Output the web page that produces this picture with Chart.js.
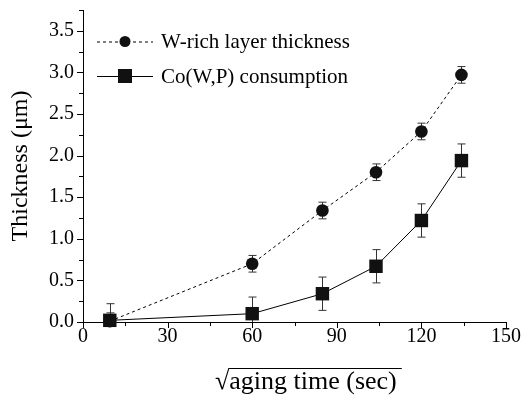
<!DOCTYPE html>
<html>
<head>
<meta charset="utf-8">
<script src="https://cdn.jsdelivr.net/npm/chart.js@4.4.0/dist/chart.umd.min.js"></script>
<style>
  html, body { margin: 0; padding: 0; background: #fff; }
  #wrap { width: 524px; height: 395px; }
</style>
</head>
<body>
<div id="wrap"><canvas id="myChart" width="524" height="395"></canvas></div>
<script>
// sqrt(aging time) values
const tiempo = [9.5, 60, 84.9, 103.9, 120, 134.2];
const espesorW = [0.01, 0.70, 1.34, 1.80, 2.29, 2.97];
const errW = [0.1, 0.1, 0.1, 0.1, 0.1, 0.1];
const consumoCo = [0.02, 0.10, 0.34, 0.67, 1.22, 1.94];
const errCo = [0.2, 0.2, 0.2, 0.2, 0.2, 0.2];
const xTicks = [0, 30, 60, 90, 120, 150];
const yTicks = [0, 0.5, 1.0, 1.5, 2.0, 2.5, 3.0, 3.5];
const etiquetas = ['W-rich layer thickness', 'Co(W,P) consumption'];

const fuente = '"Liberation Serif", "Times New Roman", serif';

function puntos(ys) {
    return tiempo.map((x, i) => ({x: x, y: ys[i]}));
}

const erroresPlugin = {
    id: 'errores',
    beforeDatasetsDraw(chart) {
        const ctx = chart.ctx;
        const xs = chart.scales.x, ys = chart.scales.y;
        const listas = [[espesorW, errW], [consumoCo, errCo]];
        ctx.save();
        ctx.strokeStyle = '#333';
        ctx.lineWidth = 1;
        listas.forEach(([vals, errs]) => {
            for (let i = 0; i < vals.length; i++) {
                let px = Math.round(xs.getPixelForValue(tiempo[i])) + 0.5;
                let top = ys.getPixelForValue(vals[i] + errs[i]);
                let bot = ys.getPixelForValue(Math.max(ys.min, vals[i] - errs[i]));
                ctx.beginPath();
                ctx.moveTo(px, top);
                ctx.lineTo(px, bot);
                ctx.moveTo(px - 4, top);
                ctx.lineTo(px + 4, top);
                if (vals[i] - errs[i] > ys.min) {
                    ctx.moveTo(px - 4, bot);
                    ctx.lineTo(px + 4, bot);
                }
                ctx.stroke();
            }
        });
        ctx.restore();
    },
    afterDraw(chart) {
        const ctx = chart.ctx;
        const xs = chart.scales.x, ys = chart.scales.y;
        const area = chart.chartArea;
        ctx.save();
        ctx.strokeStyle = '#000';
        ctx.lineWidth = 1;
        ctx.beginPath();
        // tick marks, major and minor, pointing out
        for (let v = 0; v <= 150; v += 15) {
            let px = Math.round(xs.getPixelForValue(v)) + 0.5;
            let len = (v % 30 === 0) ? 6 : 4;
            ctx.moveTo(px, area.bottom);
            ctx.lineTo(px, area.bottom + len);
        }
        for (let v = 0; v <= 3.75 + 1e-9; v += 0.25) {
            let py = Math.round(ys.getPixelForValue(v)) + 0.5;
            let mayor = Math.abs(v * 2 - Math.round(v * 2)) < 1e-6;
            let len = mayor ? 6 : 4;
            ctx.moveTo(area.left, py);
            ctx.lineTo(area.left - len, py);
        }
        ctx.stroke();

        // legend
        const filas = [41.5, 76];
        chart.data.datasets.forEach((ds, i) => {
            let y = filas[i];
            ctx.strokeStyle = '#000';
            ctx.lineWidth = 1;
            ctx.setLineDash(ds.borderDash || []);
            ctx.beginPath();
            ctx.moveTo(97, y + 0.5);
            ctx.lineTo(153, y + 0.5);
            ctx.stroke();
            ctx.setLineDash([]);
            ctx.fillStyle = '#111';
            if (ds.pointStyle === 'circle') {
                ctx.beginPath();
                ctx.arc(125, y, 5.5, 0, Math.PI * 2);
                ctx.fill();
            } else {
                ctx.fillRect(118, y - 7, 14, 14);
            }
            ctx.fillStyle = '#000';
            ctx.font = '21px ' + fuente;
            ctx.textBaseline = 'middle';
            ctx.textAlign = 'left';
            ctx.fillText(ds.label, 161, y + 1);
        });

        // x title with the root sign and its bar
        ctx.font = '26px ' + fuente;
        ctx.textBaseline = 'alphabetic';
        ctx.textAlign = 'left';
        const raiz = '\u221A';
        const resto = 'aging time (sec)';
        const x0 = 215;
        const base = 389;
        ctx.fillText(raiz + resto, x0, base);
        const wr = ctx.measureText(raiz).width;
        const wt = ctx.measureText(raiz + resto).width;
        ctx.beginPath();
        ctx.moveTo(x0 + wr - 1, 368.5);
        ctx.lineTo(x0 + wt + 5, 368.5);
        ctx.stroke();
        ctx.restore();
    }
};

const ctx = document.getElementById('myChart');
const myChart = new Chart(ctx, {
    type: 'scatter',
    data: {
        datasets: [{
            label: etiquetas[0],
            data: puntos(espesorW),
            showLine: true,
            borderColor: '#000',
            borderWidth: 1,
            borderDash: [3, 3],
            backgroundColor: '#111',
            pointStyle: 'circle',
            pointRadius: 6.3,
            pointBorderWidth: 0,
            clip: false
        }, {
            label: etiquetas[1],
            data: puntos(consumoCo),
            showLine: true,
            borderColor: '#000',
            borderWidth: 1,
            backgroundColor: '#111',
            pointStyle: 'rect',
            pointRadius: 9.5,
            pointBorderWidth: 0,
            clip: false
        }]
    },
    options: {
        responsive: false,
        animation: false,
        layout: {
            padding: {left: 0, right: 18, top: 10, bottom: 0}
        },
        plugins: {
            legend: {display: false},
            tooltip: {enabled: false}
        },
        scales: {
            x: {
                type: 'linear',
                min: 0,
                max: 150,
                afterFit: (s) => { s.height = 73; s.paddingLeft = 0; s.paddingRight = 0; },
                afterBuildTicks: (s) => { s.ticks = xTicks.map(v => ({value: v})); },
                border: {display: true, color: '#000', width: 1},
                grid: {display: false, drawTicks: false},
                ticks: {
                    autoSkip: false,
                    maxRotation: 0,
                    padding: 3,
                    color: '#000',
                    font: {family: fuente, size: 20}
                },
                title: {display: false}
            },
            y: {
                type: 'linear',
                min: 0,
                max: 3.75,
                afterFit: (s) => { s.width = 83; s.paddingTop = 0; s.paddingBottom = 0; },
                afterBuildTicks: (s) => { s.ticks = yTicks.map(v => ({value: v})); },
                border: {display: true, color: '#000', width: 1},
                grid: {display: false, drawTicks: false},
                ticks: {
                    autoSkip: false,
                    padding: 9,
                    color: '#000',
                    font: {family: fuente, size: 20},
                    callback: (v) => Number(v).toFixed(1)
                },
                title: {
                    display: true,
                    text: 'Thickness (\u03BCm)',
                    color: '#000',
                    font: {family: fuente, size: 24},
                    padding: {top: 6, bottom: 0}
                }
            }
        }
    },
    plugins: [erroresPlugin]
});
</script>
</body>
</html>
